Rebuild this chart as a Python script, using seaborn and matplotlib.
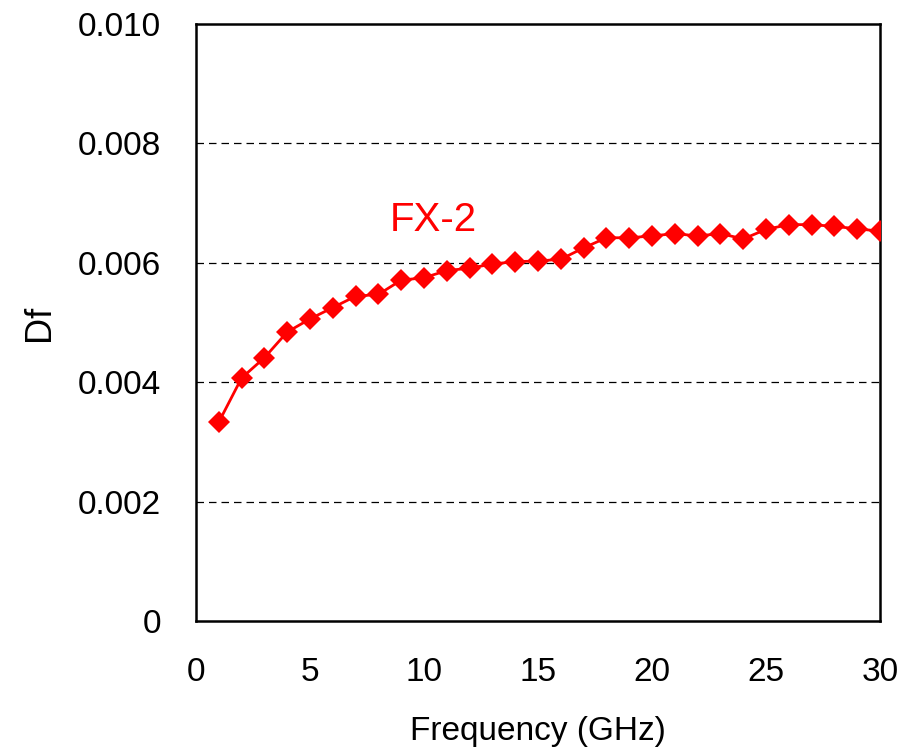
import matplotlib
matplotlib.use("Agg")
import matplotlib.pyplot as plt
import seaborn as sns
import pandas as pd

freq_ghz = list(range(1, 31))
df_values = [0.00333, 0.00407, 0.00441, 0.00484, 0.00506, 0.00525, 0.00544, 0.00547,
             0.00571, 0.00575, 0.00587, 0.00591, 0.00598, 0.00602, 0.00603, 0.00606,
             0.00625, 0.00642, 0.00642, 0.00645, 0.00649, 0.00645, 0.00649, 0.00640,
             0.00656, 0.00664, 0.00664, 0.00661, 0.00657, 0.00653]
series_label = "FX-2"
x_ticks = [0, 5, 10, 15, 20, 25, 30]
y_ticks = [0, 0.002, 0.004, 0.006, 0.008, 0.010]
y_tick_labels = ["0", "0.002", "0.004", "0.006", "0.008", "0.010"]

sns.set_style("white")
plt.rcParams["font.family"] = ["Liberation Sans", "DejaVu Sans"]
plt.rcParams["text.color"] = "black"
plt.rcParams["axes.labelcolor"] = "black"

data = pd.DataFrame({"Frequency": freq_ghz, "Df": df_values})

fig = plt.figure(figsize=(9.17, 7.51), dpi=100)
ax = fig.add_axes([0.2137, 0.1731, 0.9597 - 0.2137, 0.968 - 0.1731])

sns.lineplot(data=data, x="Frequency", y="Df", ax=ax, color="#ff0000",
             marker="D", markersize=11, markeredgewidth=0, linewidth=2.0, zorder=3)

ax.set_xlim(0, 30)
ax.set_ylim(0, 0.010)
ax.set_xticks(x_ticks)
ax.set_xticklabels([str(t) for t in x_ticks])
ax.set_yticks(y_ticks)
ax.set_yticklabels(y_tick_labels)

for yv in y_ticks[1:-1]:
    ax.axhline(yv, color="black", linewidth=0.9, linestyle=(0, (6, 4)), zorder=1)

for s in ax.spines.values():
    s.set_color("black")
    s.set_linewidth(1.8)

ax.tick_params(axis="y", direction="in", length=5, width=1.5, colors="black",
               labelsize=24, pad=25)
ax.tick_params(axis="x", direction="in", length=7, width=1.5, colors="black",
               labelsize=24, pad=26)

ax.set_xlabel("Frequency (GHz)", fontsize=24, labelpad=20)
ax.set_ylabel("Df", fontsize=26, labelpad=15)

ax.text(10.4, 0.00672, series_label, color="#ff0000", fontsize=29,
        ha="center", va="center")

fig.savefig("out.png", dpi=100, facecolor="white")
